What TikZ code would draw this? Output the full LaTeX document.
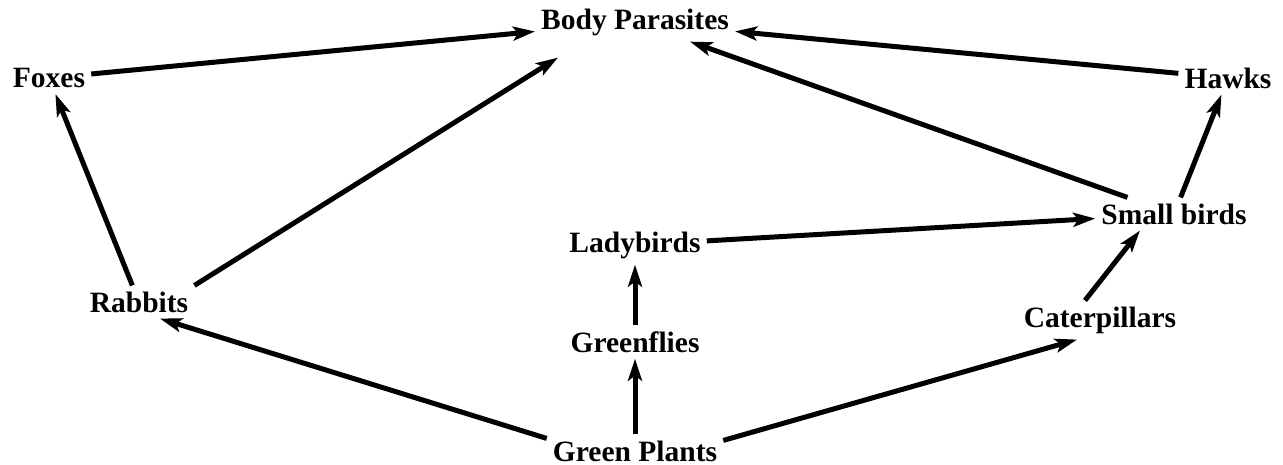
\documentclass[tikz,border=0pt]{standalone}
\usepackage{fontspec}
\setmainfont{Liberation Serif}
\usetikzlibrary{arrows.meta,calc}
\begin{document}
\begin{tikzpicture}[x=1pt,y=-1pt,
  lbl/.style={font=\bfseries\fontsize{29.5}{30}\selectfont, inner sep=6pt},
  arr/.style={line width=5pt, -{Stealth[length=22pt,width=14pt,inset=5pt]}}]
\useasboundingbox (0,0) rectangle (1283,465);
\node[lbl] (bp) at (635,22) {Body Parasites};
\node[lbl] (fox) at (49,78) {Foxes};
\node[lbl] (hawk) at (1228,78) {Hawks};
\node[lbl] (sb) at (1174,214) {Small birds};
\node[lbl] (lady) at (635,245) {Ladybirds};
\node[lbl] (rab) at (139,302) {Rabbits};
\node[lbl] (cat) at (1100,320) {Caterpillars};
\node[lbl] (gf) at (635,342) {Greenflies};
\node[lbl] (gp) at (635,451) {Green Plants};
\coordinate (rabbp) at ($(bp.south)+(-77,16)$);
\draw[arr] (fox) -- (bp);
\draw[arr] (rab.north east) -- (rabbp);
\draw[arr] (sb) -- (bp);
\draw[arr] (hawk) -- (bp);
\draw[arr] (rab) -- (fox);
\draw[arr] (sb) -- (hawk);
\draw[arr] (lady) -- (sb);
\draw[arr] (gf) -- (lady);
\draw[arr] (gp) -- (gf);
\draw[arr] ([yshift=-4pt]gp.north west) -- ([xshift=21pt]rab.south);
\draw[arr] ([yshift=-6pt]gp.north east) -- ([xshift=-23pt]cat.south);
\draw[arr] ([xshift=-15pt]cat.north) -- ([xshift=-34pt]sb.south);
\end{tikzpicture}
\end{document}
